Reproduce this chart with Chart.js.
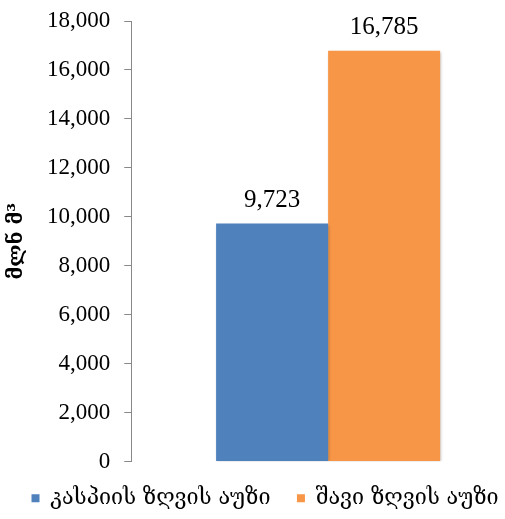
<!DOCTYPE html>
<html>
<head>
<meta charset="utf-8">
<script src="https://cdn.jsdelivr.net/npm/chart.js@4"></script>
<style>
html,body{margin:0;padding:0;background:#fff;overflow:hidden;}
#wrap{width:525px;height:519px;}
</style>
</head>
<body>
<div id="wrap"><canvas id="c" width="525" height="519"></canvas></div>
<script>
const categories = [''];
const seriesNames = ['კასპიის ზღვის აუზი', 'შავი ზღვის აუზი'];
const caspianValues = [9723];
const blackSeaValues = [16785];
const seriesColors = ['#4f81bd', '#f79646'];
const yTicks = [0, 2000, 4000, 6000, 8000, 10000, 12000, 14000, 16000, 18000];
const yTitle = 'მლნ მ³';

const serif = "'Liberation Serif','Times New Roman',serif";
const geo = "'DejaVu Serif','DejaVu Sans',serif";

const valueLabels = {
  id: 'valueLabels',
  afterDatasetsDraw(chart) {
    const ctx = chart.ctx;
    ctx.save();
    ctx.font = "25px " + serif;
    ctx.fillStyle = '#000';
    ctx.textAlign = 'center';
    ctx.textBaseline = 'alphabetic';
    chart.data.datasets.forEach((ds, i) => {
      const meta = chart.getDatasetMeta(i);
      meta.data.forEach((bar, j) => {
        const v = ds.data[j];
        ctx.fillText(v.toLocaleString('en-US'), bar.x, bar.y - 17);
      });
    });
    ctx.restore();
  }
};

const barShadow = {
  id: 'barShadow',
  beforeDatasetsDraw(chart) {
    chart.ctx.save();
    chart.ctx.shadowColor = 'rgba(0,0,0,0.3)';
    chart.ctx.shadowBlur = 3;
    chart.ctx.shadowOffsetX = 1;
    chart.ctx.shadowOffsetY = 1;
  },
  afterDatasetsDraw(chart) {
    chart.ctx.restore();
  }
};

new Chart(document.getElementById('c'), {
  type: 'bar',
  data: {
    labels: categories,
    datasets: [
      { label: seriesNames[0], data: caspianValues, backgroundColor: seriesColors[0] },
      { label: seriesNames[1], data: blackSeaValues, backgroundColor: seriesColors[1] }
    ]
  },
  options: {
    responsive: false,
    animation: false,
    layout: { padding: { left: 5, right: 0, top: 21, bottom: 0 } },
    plugins: {
      legend: {
        position: 'bottom',
        labels: {
          boxWidth: 8, boxHeight: 8, padding: 6,
          color: '#000',
          font: { family: geo, size: 21.5 },
          generateLabels(chart) {
            const items = Chart.defaults.plugins.legend.labels.generateLabels(chart);
            items.forEach((it, i) => {
              it.lineWidth = 0;
              if (i < items.length - 1) it.text = it.text + '   ';
            });
            return items;
          }
        }
      },
      tooltip: { enabled: false }
    },
    datasets: { bar: { barPercentage: 1.0, categoryPercentage: 0.569 } },
    scales: {
      x: {
        display: true,
        grid: { display: false },
        border: { display: false },
        ticks: { display: false },
        afterFit(scale) { scale.height = 20; }
      },
      y: {
        min: 0, max: 18000,
        afterBuildTicks(scale) { scale.ticks = yTicks.map(v => ({ value: v })); },
        afterFit(scale) { scale.paddingTop = 0; scale.paddingBottom = 0; },
        border: { display: true, color: '#888', width: 1 },
        grid: { display: true, drawOnChartArea: false, drawTicks: true, tickLength: 7, color: '#888' },
        ticks: {
          color: '#000', padding: 14,
          font: { family: serif, size: 23 },
          callback: v => v.toLocaleString('en-US')
        },
        title: {
          display: true, text: yTitle, color: '#000',
          font: { family: geo, size: 20, weight: 'bold' },
          padding: { top: 0, bottom: 4 }
        }
      }
    }
  },
  plugins: [barShadow, valueLabels]
});
</script>
</body>
</html>
